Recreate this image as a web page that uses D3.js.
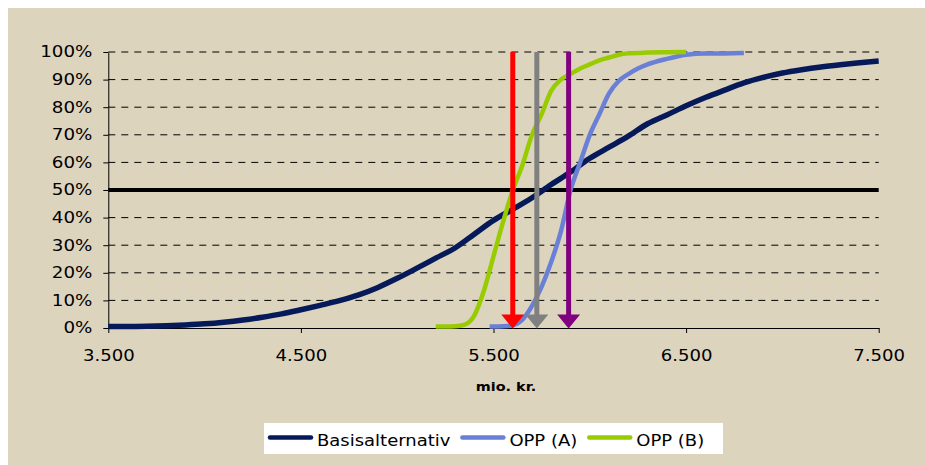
<!DOCTYPE html>
<html><head><meta charset="utf-8">
<script src="https://cdn.jsdelivr.net/npm/d3@7"></script>
<style>html,body{margin:0;padding:0;background:#fff}svg{display:block}</style>
</head><body><svg id="c" width="925" height="465"></svg>
<script>
// ---- data (mio. kr. vs cumulative probability) ----
const seriesNames = ["Basisalternativ", "OPP (A)", "OPP (B)"];
const basisMio = [3500,3600,3700,3800,3900,4000,4100,4200,4300,4400,4500,4600,4700,4800,4900,5000,5100,5200,5300,5400,5500,5600,5700,5800,5900,6000,6100,6200,6300,6400,6500,6600,6700,6800,6900,7000,7100,7200,7300,7400,7500];
const basisPct = [0.005,0.005,0.006,0.008,0.011,0.015,0.021,0.029,0.039,0.051,0.066,0.082,0.099,0.12,0.147,0.18,0.216,0.253,0.29,0.34,0.39,0.43,0.472,0.52,0.565,0.615,0.655,0.695,0.74,0.772,0.805,0.835,0.862,0.888,0.908,0.924,0.936,0.946,0.954,0.961,0.967];
const oppAMio = [5480,5500,5550,5600,5650,5700,5750,5800,5850,5900,5950,6000,6050,6100,6150,6200,6250,6300,6400,6500,6600,6700,6800];
const oppAPct = [0.005,0.005,0.006,0.01,0.03,0.08,0.15,0.24,0.35,0.50,0.60,0.70,0.775,0.85,0.895,0.92,0.94,0.955,0.975,0.99,0.995,0.995,0.996];
const oppBMio = [5200,5250,5300,5350,5400,5450,5500,5550,5600,5650,5700,5750,5800,5850,5900,5950,6000,6050,6100,6150,6200,6300,6400,6500];
const oppBPct = [0.005,0.005,0.006,0.012,0.045,0.135,0.26,0.385,0.50,0.59,0.70,0.775,0.86,0.90,0.92,0.94,0.955,0.97,0.98,0.99,0.995,0.998,0.999,1.0];
const arrowMio = [5600, 5725, 5890];
const arrowColors = ["#FF0000", "#808080", "#800080"];
const seriesColors = ["#061A5A", "#6A80D6", "#99CC00"];
const seriesWidths = [5.5, 4.5, 4.5];
const xTickValues = [3500, 4500, 5500, 6500, 7500];
const yTickValues = [0,0.1,0.2,0.3,0.4,0.5,0.6,0.7,0.8,0.9,1.0];
const medianLine = 0.5;
const xTitle = "mio. kr.";

// ---- drawing ----
const svg = d3.select("#c");
const FONT = "DejaVu Sans";
svg.append("rect").attr("x",8).attr("y",8).attr("width",917).attr("height",457).attr("fill","#DDD4BE");

const x = d3.scaleLinear().domain([3500, 7500]).range([108.3, 878.7]);
const y = d3.scaleLinear().domain([0, 1]).range([328, 52]);

const da = d3.formatLocale({decimal: ",", thousands: ".", grouping: [3], currency: ["", " kr."]});

// gridlines
svg.append("g").selectAll("line")
  .data(yTickValues.filter(v => v !== 0 && v !== medianLine))
  .join("line")
  .attr("x1", x(3500)).attr("x2", x(7500))
  .attr("y1", d => y(d)).attr("y2", d => y(d))
  .attr("stroke", "#000").attr("stroke-width", 1)
  .attr("stroke-dasharray", "7,6");

// axes
const yAxis = svg.append("g").attr("transform", `translate(${x(3500)},0)`)
  .call(d3.axisLeft(y).tickValues(yTickValues).tickSize(5).tickSizeOuter(0).tickFormat(d3.format(".0%")));
yAxis.selectAll("text").attr("x", -13).attr("transform", "scale(1.22,1)")
  .style("font-family", FONT).style("font-size", "15px").attr("fill", "#000");

const xAxis = svg.append("g").attr("transform", `translate(0,${y(0)})`)
  .call(d3.axisBottom(x).tickValues(xTickValues).tickSize(5).tickSizeOuter(0).tickFormat(da.format(",d")));
xAxis.selectAll("text").attr("x", 0).attr("y", 22).attr("transform", "scale(1.13,1)")
  .style("font-family", FONT).style("font-size", "16px").attr("fill", "#000");
[yAxis, xAxis].forEach(a => { a.select(".domain").attr("stroke", "#000"); a.selectAll(".tick line").attr("stroke", "#000"); });

// 50% line
svg.append("line").attr("x1", x(3500)).attr("x2", x(7500))
  .attr("y1", y(medianLine)).attr("y2", y(medianLine))
  .attr("stroke", "#000").attr("stroke-width", 4);

// curves
const seriesData = [
  d3.zip(basisMio, basisPct),
  d3.zip(oppAMio, oppAPct),
  d3.zip(oppBMio, oppBPct)
];
const line = d3.line().x(d => x(d[0])).y(d => y(d[1])).curve(d3.curveMonotoneX);
svg.append("g").selectAll("path").data(seriesData).join("path")
  .attr("d", line).attr("fill", "none")
  .attr("stroke", (d,i) => seriesColors[i]).attr("stroke-width", (d,i) => seriesWidths[i])
  .attr("stroke-linejoin", "round").attr("stroke-linecap", "butt");

// arrows
const headW = 11.5, headH = 13.5;
const ag = svg.append("g").selectAll("g").data(arrowMio).join("g");
ag.append("line")
  .attr("x1", d => x(d)).attr("x2", d => x(d))
  .attr("y1", y(1)).attr("y2", y(0) - headH + 1)
  .attr("stroke", (d,i) => arrowColors[i]).attr("stroke-width", 5);
ag.append("path")
  .attr("d", d => `M${x(d)-headW},${y(0)-headH}L${x(d)+headW},${y(0)-headH}L${x(d)},${y(0)+0.5}Z`)
  .attr("fill", (d,i) => arrowColors[i]);

// x title
svg.append("text").attr("transform", "translate(506,391) scale(1.2,1)")
  .attr("text-anchor", "middle").style("font-family", FONT).style("font-size", "12px")
  .style("font-weight", "bold").attr("fill", "#000").text(xTitle);

// legend
const leg = svg.append("g");
leg.append("rect").attr("x", 264).attr("y", 423).attr("width", 459).attr("height", 31).attr("fill", "#fff");
let cx = 270;
seriesNames.forEach((name, i) => {
  leg.append("line").attr("x1", cx).attr("x2", cx + 41).attr("y1", 437.5).attr("y2", 437.5)
    .attr("stroke", seriesColors[i]).attr("stroke-width", 4.5).attr("stroke-linecap", "round");
  const tx = cx + 41 + 6;
  const t = leg.append("text").attr("transform", `translate(${tx},446) scale(1.2,1)`)
    .style("font-family", FONT).style("font-size", "15px").attr("fill", "#000").text(name);
  const w = t.node().getComputedTextLength() * 1.2;
  cx = tx + w + 12;
});
</script>
</body></html>
